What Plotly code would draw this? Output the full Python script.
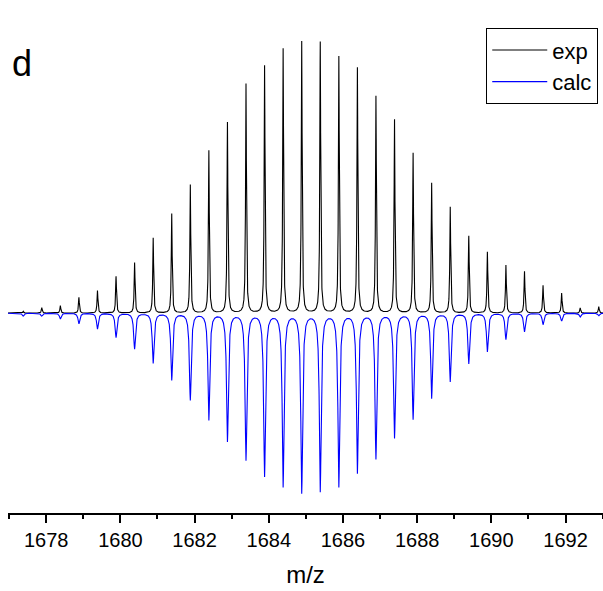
import numpy as np
import plotly.graph_objects as go

# Peak centroids (m/z) (z = 2 envelope)
mz_peaks = [1677.38 + 0.5005 * k for k in range(32)]
mz_peaks = [round(v, 3) for v in mz_peaks]

# Experimental relative intensities (%)
exp_int = [0.66, 2.0, 2.8, 5.8, 8.3, 13.5, 18.6, 27.7, 36.6, 47.2, 59.8, 70.2,
           84.4, 91.1, 97.3, 100.0, 99.8, 94.5, 90.3, 79.9, 71.2, 58.9, 47.9,
           39.1, 28.4, 22.5, 17.7, 15.4, 10.2, 7.4, 1.9, 2.4]

# Calculated intensities (same units, drawn downward)
calc_int = [1.1, 1.1, 2.1, 3.9, 5.8, 8.9, 13.1, 18.3, 24.5, 31.8, 39.1, 47.0,
            53.8, 59.8, 63.6, 65.9, 65.3, 63.6, 58.6, 53.4, 45.7, 38.9, 31.2,
            25.1, 18.5, 14.1, 9.6, 6.8, 4.2, 2.9, 1.4, 0.9]

tick_vals = [1678, 1680, 1682, 1684, 1686, 1688, 1690, 1692]
tick_text = [str(v) for v in tick_vals]

# Profile widths (Lorentzian half widths, m/z)
gamma_exp = 0.014
gamma_calc = 0.029

x = np.union1d(np.arange(1676.95, 1693.03, 0.002), np.array(mz_peaks))


def profile(centres, heights, gamma):
    y = np.zeros_like(x)
    for c, h in zip(centres, heights):
        y += h * gamma ** 2 / ((x - c) ** 2 + gamma ** 2)
    return y


y_exp = profile(mz_peaks, exp_int, gamma_exp)
y_calc = -profile(mz_peaks, calc_int, gamma_calc)

fig = go.Figure()
fig.add_trace(go.Scatter(x=x, y=y_exp, mode="lines", name="exp",
                         line=dict(color="black", width=1.1)))
fig.add_trace(go.Scatter(x=x, y=y_calc, mode="lines", name="calc",
                         line=dict(color="#0000ff", width=1.1)))

fig.add_annotation(text="d", xref="paper", yref="paper", x=0.004, y=0.877,
                   xanchor="left", yanchor="middle", showarrow=False,
                   font=dict(size=36, color="black", family="Liberation Sans"))

fig.update_layout(
    width=603, height=591,
    margin=dict(l=8, r=0, t=0, b=78),
    paper_bgcolor="white", plot_bgcolor="white",
    font=dict(family="Liberation Sans, Arial, sans-serif", color="black"),
    showlegend=True,
    legend=dict(x=0.992, y=0.945, xanchor="right", yanchor="top",
                bordercolor="black", borderwidth=1, bgcolor="white",
                font=dict(size=22), tracegroupgap=0, itemwidth=55),
)
fig.update_xaxes(range=[1676.97, 1693.01], showgrid=False, zeroline=False,
                 showline=True, linecolor="black", linewidth=1.5,
                 ticks="outside", ticklen=8, tickwidth=1.5, tickcolor="black",
                 tickvals=tick_vals, ticktext=tick_text,
                 tickfont=dict(size=20),
                 minor=dict(dtick=1, tick0=1677, ticks="outside", ticklen=4,
                            tickwidth=1.5, tickcolor="black"),
                 title=dict(text="m/z", font=dict(size=24), standoff=16))
fig.update_yaxes(range=[-73.6, 115.3], visible=False)

fig.write_html("out.html")
